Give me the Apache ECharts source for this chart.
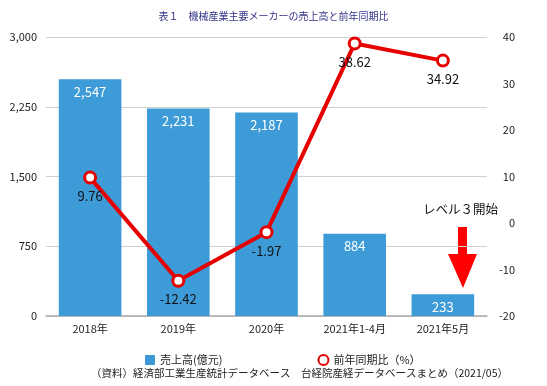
<!DOCTYPE html>
<html><head><meta charset="utf-8">
<script src="https://cdn.jsdelivr.net/npm/echarts@6/dist/echarts.min.js"></script>
<style>html,body{margin:0;padding:0;background:#fff}#c{width:547px;height:386px}</style>
</head><body><div id="c"></div>
<script>
const categories = ['2018年','2019年','2020年','2021年1-4月','2021年5月'];
const sales = [2547, 2231, 2187, 884, 233];
const yoy = [9.76, -12.42, -1.97, 38.62, 34.92];
const leftTicks = [0, 750, 1500, 2250, 3000];
const rightTicks = [-20, -10, 0, 10, 20, 30, 40];
const font = '"Noto Sans CJK JP", "Noto Sans", sans-serif';
const chart = echarts.init(document.getElementById('c'));
chart.setOption({
  animation: false,
  textStyle: {fontFamily: font},
  title: {text: '表１　機械産業主要メーカーの売上高と前年同期比', left: 'center', top: 6,
    textStyle: {fontSize: 10, fontWeight: 'normal', color: '#333388', fontFamily: font}},
  grid: {left: 46, right: 60, top: 37, bottom: 70},
  legend: {top: 349, left: 140, itemGap: 95, itemWidth: 10, itemHeight: 10,
    textStyle: {fontSize: 11, color: '#222', fontFamily: font},
    data: [{name: '売上高(億元)', icon: 'rect'}, {name: '前年同期比（%）', icon: 'circle'}]},
  xAxis: {type: 'category', data: categories,
    axisLine: {lineStyle: {color: '#aaa', width: 1.5}}, axisTick: {show: false},
    axisLabel: {fontSize: 11, color: '#222', margin: 7}},
  yAxis: [
    {type: 'value', min: leftTicks[0], max: leftTicks[leftTicks.length-1], interval: 750,
      axisLine: {show: false}, axisTick: {show: false},
      splitLine: {lineStyle: {color: '#d0d0d0'}},
      axisLabel: {fontSize: 11, color: '#222', margin: 9,
        formatter: v => v.toLocaleString('en-US')}},
    {type: 'value', min: rightTicks[0], max: rightTicks[rightTicks.length-1], interval: 10,
      axisLine: {show: false}, axisTick: {show: false}, splitLine: {show: false},
      axisLabel: {fontSize: 11, color: '#222', margin: 28, align: 'right'}}
  ],
  graphic: [
    {type: 'text', left: 423, top: 203, style: {text: 'レベル３開始', fontSize: 12.5, fill: '#111', fontFamily: font}},
    {type: 'polygon', shape: {points: [[458,227],[467,227],[467,254],[477,254],[463,288],[448,254],[458,254]]},
      style: {fill: '#ff0000'}},
    {type: 'text', right: 39, top: 368, style: {text: '（資料）経済部工業生産統計データベース　台経院産経データベースまとめ（2021/05）',
      fontSize: 10.5, fill: '#222', fontFamily: font}}
  ],
  series: [
    {name: '売上高(億元)', type: 'bar', data: sales, barWidth: '71%', yAxisIndex: 0,
      itemStyle: {color: '#3d9bd7'},
      label: {show: true, position: 'insideTop', color: '#fff', fontSize: 13, distance: 6,
        formatter: p => p.value.toLocaleString('en-US')}},
    {name: '前年同期比（%）', type: 'line', data: yoy, yAxisIndex: 1,
      lineStyle: {color: '#e60000', width: 4}, symbol: 'circle', symbolSize: 11,
      itemStyle: {color: '#fff', borderColor: '#e60000', borderWidth: 3},
      label: {show: true, position: 'bottom', distance: 5, color: '#111', fontSize: 13,
        formatter: p => p.value.toFixed(2)}}
  ]
});
</script></body></html>
